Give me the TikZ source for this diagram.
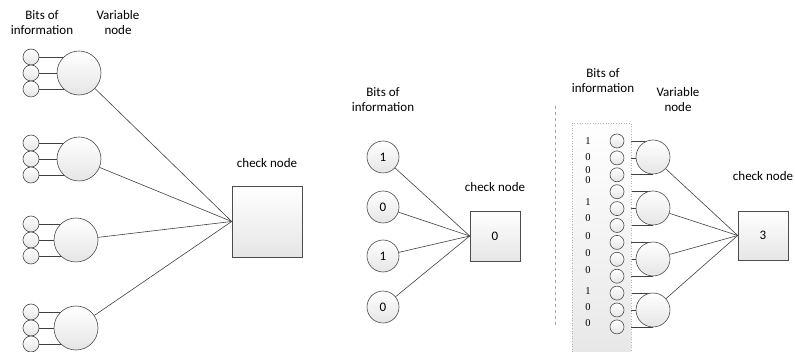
\documentclass[tikz,border=0pt]{standalone}
\usepackage{fontspec}
\setmainfont{Carlito}
\newfontfamily\digfont{Liberation Serif}
\usetikzlibrary{backgrounds}
\begin{document}
\begin{tikzpicture}[x=1pt,y=-1pt,
  nodefill/.style={top color=white, bottom color=black!10, draw=black!70, line width=0.6pt},
  bit/.style={circle, nodefill, minimum size=16pt, inner sep=0pt},
  var/.style={circle, nodefill, minimum size=44pt, inner sep=0pt},
  mbit/.style={circle, nodefill, minimum size=32pt, inner sep=0pt, font=\fontsize{13}{15}\selectfont},
  rbit/.style={circle, nodefill, minimum size=14pt, inner sep=0pt},
  rvar/.style={circle, nodefill, minimum size=34pt, inner sep=0pt},
  chkbox/.style={rectangle, nodefill, inner sep=0pt, font=\fontsize{13}{15}\selectfont},
  lbl/.style={align=center, font=\fontsize{13}{15}\selectfont, inner sep=0pt},
  dig/.style={font=\digfont\fontsize{10.5}{12}\selectfont, inner sep=0pt},
  edge/.style={draw=black!75, line width=0.6pt}]
\useasboundingbox (0,0) rectangle (795,352);

% ---------------- left section ----------------
\node[lbl] (lbitsA) at (42,22.5) {Bits of\\information};
\node[lbl] (lvarA) at (118,22.5) {Variable\\node};
\node[lbl] (lchkA) at (267,163) {check node};
\node[chkbox, minimum width=70pt, minimum height=71pt] (chkA) at (267,221.5) {};
\foreach \g/\L/\X in {1/73/79, 2/159/79, 3/240/76, 4/328/76} {
  \node[var] (v\g) at (\X,\L) {};
  \node[bit] (s\g a) at (31,{\L-16}) {};
  \node[bit] (s\g b) at (31,\L) {};
  \node[bit] (s\g c) at (31,{\L+16}) {};
}
\begin{scope}[on background layer]
  \foreach \g in {1,...,4} {
    \foreach \k in {a,b,c} {
      \draw[edge] (s\g\k.east) -- (s\g\k.east -| v\g.center);
    }
  }
\end{scope}
\foreach \g in {1,...,4} {
  \draw[edge] (v\g) -- (chkA.west);
}

% ---------------- middle section ----------------
\node[lbl] (lbitsB) at (383,100) {Bits of\\information};
\node[lbl] (lchkB) at (495,187) {check node};
\node[chkbox, minimum width=50pt, minimum height=50pt] (chkB) at (495,236) {0};
\node[mbit] (m1) at (383,157) {1};
\node[mbit] (m2) at (383,207) {0};
\node[mbit] (m3) at (383,256) {1};
\node[mbit] (m4) at (383,307) {0};
\foreach \i in {1,...,4} {
  \draw[edge] (m\i) -- (chkB.west);
}

% ---------------- right section ----------------
\draw[dashed, draw=black!35, line width=1pt] (555,106) -- (555,325);
\shade[top color=white, bottom color=black!9] (572,123) rectangle (631,352);
\draw[draw=black!30, dotted, line width=0.6pt] (572,352) -- (572,123) -- (631,123) -- (631,352);
\node[lbl] (lbitsC) at (603,80.5) {Bits of\\information};
\node[lbl] (lvarC) at (678,100) {Variable\\node};
\node[lbl] (lchkC) at (763,176) {check node};
\node[chkbox, minimum width=50pt, minimum height=49pt] (chkC) at (763,235.5) {3};
\foreach \y/\d [count=\i] in {141/1, 157/0, 170/0, 180/0, 202/1, 218/0, 236/0, 253/0, 270/0, 291/1, 307/0, 323/0} {
  \node[dig] (d\i) at (588,\y) {\d};
}
\foreach \g/\L in {1/157, 2/208, 3/259, 4/310} {
  \node[rvar] (w\g) at (653,\L) {};
}
\foreach \i in {0,...,11} {
  \node[rbit] (r\i) at (617,{141+\i*16.9}) {};
}
\begin{scope}[on background layer]
  \foreach \i in {0,...,11} {
    \pgfmathtruncatemacro{\grp}{\i/3+1}
    \draw[edge] (r\i.east) -- (r\i.east -| w\grp.center);
  }
\end{scope}
\foreach \g in {1,...,4} {
  \draw[edge] (w\g) -- (chkC.west);
}
\end{tikzpicture}
\end{document}
